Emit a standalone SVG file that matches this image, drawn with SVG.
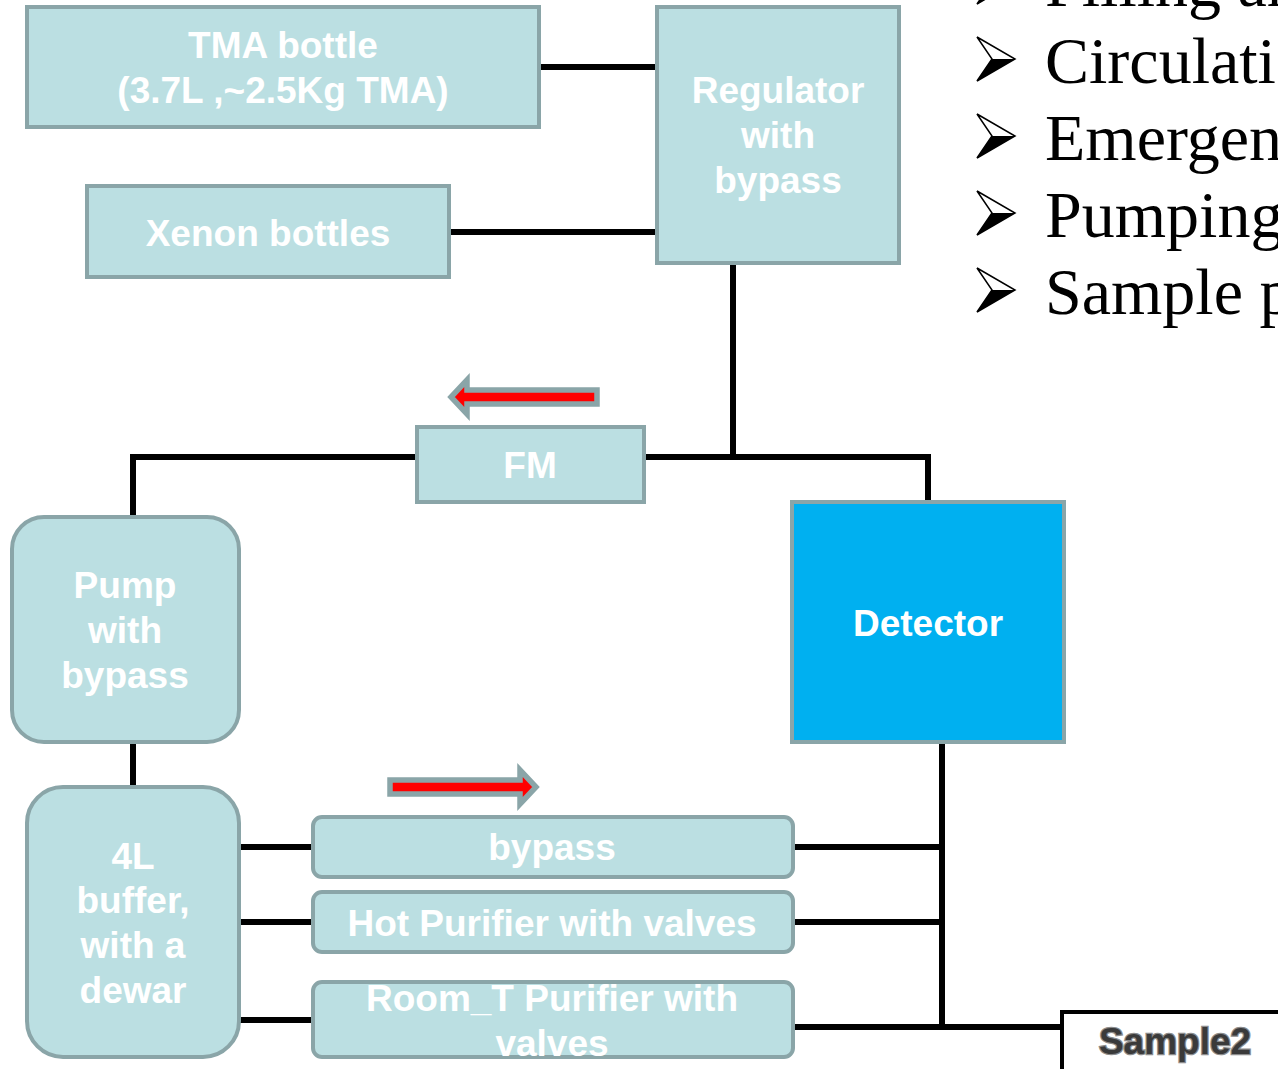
<svg xmlns="http://www.w3.org/2000/svg" width="1278" height="1069" viewBox="0 0 1278 1069">
<style>
.box{fill:#bbdfe2;stroke:#8aa5a8;stroke-width:4}
.det{fill:#00b0f0;stroke:#8aa5a8;stroke-width:4}
.lbl{font-family:"Liberation Sans",Arial,sans-serif;font-weight:bold;font-size:37px;fill:#ffffff;text-anchor:middle}
.conn{stroke:#000;stroke-width:6;fill:none}
.flow{fill:#ff0000;stroke:#8aa5a8;stroke-width:5.5;stroke-linejoin:miter}
.bul{font-family:"Liberation Serif","Times New Roman",serif;font-size:66px;fill:#000}
.s2{font-family:"Liberation Sans",Arial,sans-serif;font-weight:bold;font-size:37px;fill:#3a3a3a;stroke:#8c8c8c;stroke-width:2.5;paint-order:stroke;text-anchor:middle}
</style>
<defs>
<g id="bullet">
<polygon points="0,-22 38,0 0,22 15,0" fill="#fff" stroke="#000" stroke-width="1.5"/>
<polygon points="15,0 38,0 0,22" fill="#000"/>
</g>
</defs>
<rect width="1278" height="1069" fill="#ffffff"/>

<g id="connectors">
<line class="conn" x1="539" y1="67" x2="657" y2="67"/>
<line class="conn" x1="449" y1="232" x2="657" y2="232"/>
<polyline class="conn" points="733,263 733,457"/>
<polyline class="conn" points="417,457 133,457 133,517"/>
<polyline class="conn" points="644,457 928,457 928,502"/>
<line class="conn" x1="133" y1="742" x2="133" y2="787"/>
<line class="conn" x1="942" y1="742" x2="942" y2="1027"/>
<line class="conn" x1="239" y1="847" x2="313" y2="847"/>
<line class="conn" x1="239" y1="922" x2="313" y2="922"/>
<line class="conn" x1="239" y1="1020" x2="313" y2="1020"/>
<line class="conn" x1="793" y1="847" x2="942" y2="847"/>
<line class="conn" x1="793" y1="922" x2="942" y2="922"/>
<line class="conn" x1="793" y1="1027" x2="1062" y2="1027"/>
</g>

<g id="flow-arrows">
<polygon class="flow" points="597,390 467,390 467,380 451,397 467,414 467,404 597,404"/>
<polygon class="flow" points="390,780 520,780 520,770 536,787 520,804 520,794 390,794"/>
</g>

<g id="tma">
<rect class="box" x="27" y="7" width="512" height="120"/>
<text class="lbl" x="283" y="58">TMA bottle</text>
<text class="lbl" x="283" y="103">(3.7L ,~2.5Kg TMA)</text>
</g>
<g id="xenon">
<rect class="box" x="87" y="186" width="362" height="91"/>
<text class="lbl" x="268" y="246">Xenon bottles</text>
</g>
<g id="regulator">
<rect class="box" x="657" y="7" width="242" height="256"/>
<text class="lbl" x="778" y="103">Regulator</text>
<text class="lbl" x="778" y="148">with</text>
<text class="lbl" x="778" y="193">bypass</text>
</g>
<g id="fm">
<rect class="box" x="417" y="427" width="227" height="75"/>
<text class="lbl" x="530" y="478">FM</text>
</g>
<g id="pump">
<rect class="box" x="12" y="517" width="227" height="225" rx="32"/>
<text class="lbl" x="125" y="598">Pump</text>
<text class="lbl" x="125" y="643">with</text>
<text class="lbl" x="125" y="688">bypass</text>
</g>
<g id="detector">
<rect class="det" x="792" y="502" width="272" height="240"/>
<text class="lbl" x="928" y="636">Detector</text>
</g>
<g id="buffer">
<rect class="box" x="27" y="787" width="212" height="270" rx="36"/>
<text class="lbl" x="133" y="869">4L</text>
<text class="lbl" x="133" y="913">buffer,</text>
<text class="lbl" x="133" y="958">with a</text>
<text class="lbl" x="133" y="1003">dewar</text>
</g>
<g id="bypass">
<rect class="box" x="313" y="817" width="480" height="60" rx="9"/>
<text class="lbl" x="552" y="860">bypass</text>
</g>
<g id="hot-purifier">
<rect class="box" x="313" y="892" width="480" height="60" rx="9"/>
<text class="lbl" x="552" y="936">Hot Purifier with valves</text>
</g>
<g id="room-purifier">
<rect class="box" x="313" y="982" width="480" height="75" rx="9"/>
<text class="lbl" x="552" y="1011">Room_T Purifier with</text>
<text class="lbl" x="552" y="1056">valves</text>
</g>
<g id="sample2">
<rect x="1062" y="1012" width="260" height="90" fill="#fff" stroke="#000" stroke-width="4"/>
<text class="s2" x="1175" y="1054">Sample2</text>
</g>

<g id="bullets">
<use href="#bullet" x="977" y="-18"/>
<use href="#bullet" x="977" y="59"/>
<use href="#bullet" x="977" y="136"/>
<use href="#bullet" x="977" y="213"/>
<use href="#bullet" x="977" y="290"/>
<text class="bul" x="1045" y="6">Filling an</text>
<text class="bul" x="1045" y="83">Circulatio</text>
<text class="bul" x="1045" y="160">Emergenc</text>
<text class="bul" x="1045" y="237">Pumping</text>
<text class="bul" x="1045" y="314">Sample p</text>
</g>
</svg>
